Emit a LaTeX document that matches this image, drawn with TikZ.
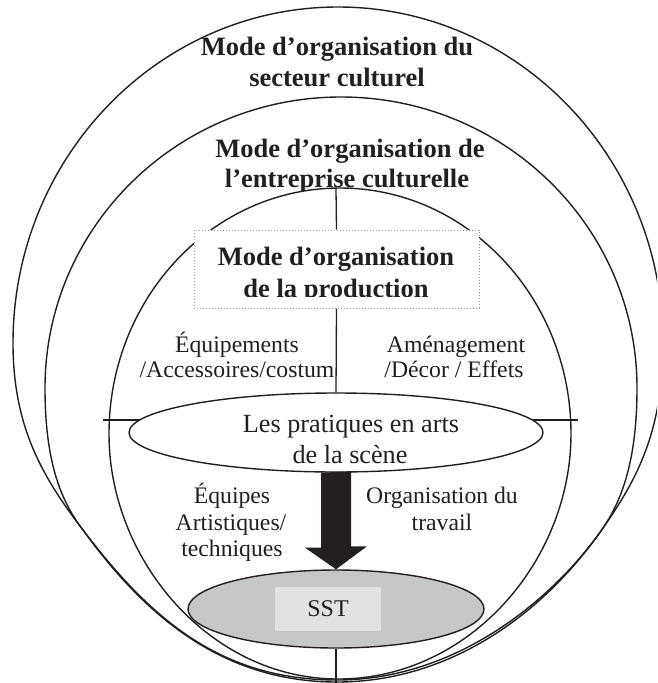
\documentclass[tikz,border=0pt]{standalone}
\usepackage{fontspec}
\setmainfont{Liberation Serif}
\usetikzlibrary{shapes.geometric}
\definecolor{ink}{HTML}{231F20}
\definecolor{sstgray}{HTML}{C6C7C9}
\definecolor{sstlight}{HTML}{E1E2E4}
\definecolor{dotgray}{HTML}{9A9A9A}
\tikzset{
  ring/.style={draw=ink, line width=1.4pt},
  conn/.style={draw=ink, line width=1.3pt},
  titletext/.style={font=\fontsize{26.5}{30}\selectfont\bfseries, text=ink, anchor=base, inner sep=0pt},
  labeltext/.style={font=\fontsize{23.7}{26}\selectfont, text=ink, anchor=base, inner sep=0pt},
  bigtext/.style={font=\fontsize{26.2}{30}\selectfont, text=ink, anchor=base, inner sep=0pt},
  ovalnode/.style={ellipse, draw=ink, line width=1.4pt, inner sep=0pt},
}
\begin{document}
\begin{tikzpicture}[x=1pt,y=-1pt]
\useasboundingbox (0,0) rectangle (657,683);
\clip (0,0) rectangle (657,683);

% titles of the two outer rings
\node[titletext] (t1a) at (337,55) {Mode d’organisation du};
\node[titletext] (t1b) at (337,86) {secteur culturel};
\node[titletext] (t2a) at (350,157) {Mode d’organisation de};
\node[titletext] (t2b) at (347,187) {l’entreprise culturelle};

% inner ring (white fill hides the bottom of the title above it)
\draw[ring, fill=white] (109,434) arc[start angle=180, end angle=0, x radius=231pt, y radius=246pt]
  .. controls (571,560) and (470,679) .. (338,679)
  .. controls (210,679) and (109,560) .. cycle;

% outer ring
\draw[ring] (13,343) arc[start angle=180, end angle=0, x radius=325pt, y radius=336pt]
  .. controls (663,430) and (638,478) .. (603,528)
  .. controls (553,600) and (456,680) .. (337,680)
  .. controls (220,680) and (150,618) .. (83,530)
  .. controls (45,480) and (13,430) .. cycle;

% middle ring
\draw[ring] (45,388) arc[start angle=180, end angle=0, x radius=296pt, y radius=291pt]
  .. controls (637,460) and (622,500) .. (603,528)
  .. controls (548,608) and (455,682) .. (337,682)
  .. controls (220,682) and (143,613) .. (83,530)
  .. controls (60,500) and (45,460) .. cycle;

\coordinate (innertop) at (336,188);
\coordinate (hl) at (103,420);
\coordinate (hr) at (578,420);
\coordinate (bottomend) at (336,683);

% production box
\node[draw=dotgray, dotted, line width=1pt, fill=white, minimum width=285pt, minimum height=78pt, inner sep=0pt] (box) at (336.5,269) {};
\begin{scope}
  \clip (194,230) rectangle (479,296.5);
  \node[titletext] (t3a) at (336,265) {Mode d’organisation};
  \node[titletext] (t3b) at (336,297) {de la production};
\end{scope}

\draw[conn] (innertop) -- (box.north);
\draw[conn] (hl) -- (hr);

% practices ellipse
\node[ovalnode, fill=white, minimum width=414pt, minimum height=79pt] (prat) at (336,432.5) {};
\draw[conn] (box.south) -- (prat.north);
\node[bigtext] (p1) at (351,432) {Les pratiques en arts};
\node[bigtext] (p2) at (350,463) {de la scène};

% side labels
\node[labeltext] (l1a) at (237,352) {Équipements};
\node[labeltext] (l1b) at (237,377) {/Accessoires/costum};
\node[labeltext] (l2a) at (456,352) {Aménagement};
\node[labeltext] (l2b) at (454,377) {/Décor / Effets};
\node[labeltext] (e1) at (232,503) {Équipes};
\node[labeltext] (e2) at (231,530) {Artistiques/};
\node[labeltext] (e3) at (232,556) {techniques};
\node[labeltext] (o1) at (442,503) {Organisation du};
\node[labeltext] (o2) at (442,530) {travail};

% SST ellipse
\node[ovalnode, fill=sstgray, minimum width=296pt, minimum height=78pt] (sst) at (336,609) {};
\node[fill=sstlight, minimum width=106pt, minimum height=44pt, inner sep=0pt, font=\fontsize{24}{26}\selectfont, text=ink] (sstbox) at (328,609) {SST};
\draw[conn] (sst.south) -- (bottomend);

% big block arrow
\fill[ink] ([xshift=-15pt]prat.south) -- ++(0,75) -- ++(-16,0) -- (sst.north) -- ++(31,-23) -- ++(-16,0) -- ++(0,-75) -- cycle;
\end{tikzpicture}
\end{document}
